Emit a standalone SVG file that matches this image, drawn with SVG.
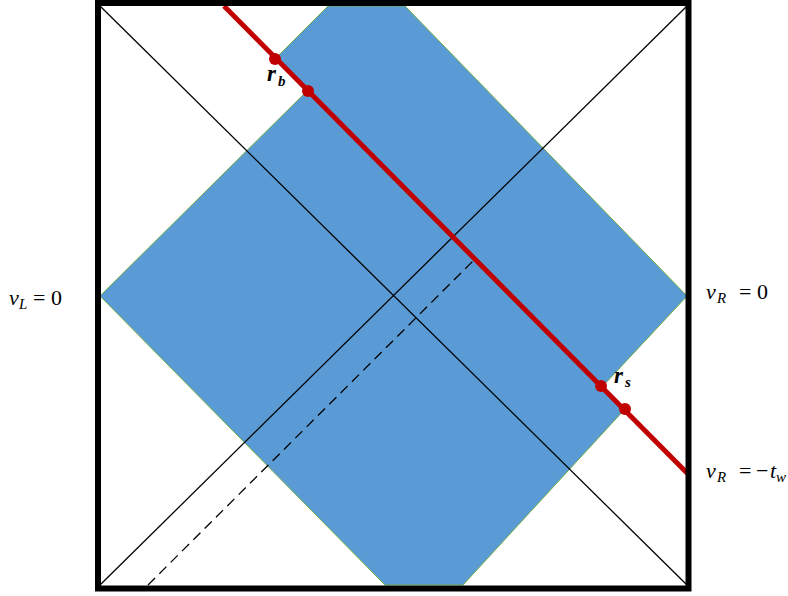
<svg xmlns="http://www.w3.org/2000/svg" width="788" height="596" viewBox="0 0 788 596">
<style>
.diag{stroke:#000;stroke-width:1.3;fill:none}
.lbl{font-family:"Liberation Serif","DejaVu Serif",serif;font-size:22px;fill:#000}
.it{font-style:italic}
.sub{font-size:15px;font-style:italic}
.pt{font-family:"Liberation Serif","DejaVu Serif",serif;font-size:23px;font-style:italic;font-weight:bold;fill:#000}
.dot{fill:#C00000}
</style>
<rect width="788" height="596" fill="#fff"/>
<g id="region">
<polygon points="100,296 308,90 275,59 328,6 405,6 687,296 602,387 625,409 463,585 385,585" fill="#5B9BD5" stroke="#70AD47" stroke-width="1" stroke-linejoin="miter"/>
</g>
<g id="connectors">
<line class="diag" x1="100" y1="6" x2="687" y2="585"/>
<line class="diag" x1="100" y1="585" x2="687" y2="6"/>
<line x1="148" y1="585" x2="475" y2="259" stroke="#000" stroke-width="1.3" stroke-dasharray="10,6"/>
<line x1="224" y1="6" x2="688" y2="474" stroke="#C00000" stroke-width="5"/>
</g>
<g id="frame">
<rect x="98" y="3" width="590.5" height="585.5" fill="none" stroke="#000" stroke-width="6"/>
</g>
<g id="rb">
<circle class="dot" cx="275" cy="59" r="6"/>
<circle class="dot" cx="308" cy="91" r="6"/>
<text class="pt" x="267" y="81">r<tspan x="278" y="86" font-size="15">b</tspan></text>
</g>
<g id="rs">
<circle class="dot" cx="601" cy="386" r="6"/>
<circle class="dot" cx="625" cy="409" r="6"/>
<text class="pt" x="614" y="383">r<tspan x="625" y="387" font-size="15">s</tspan></text>
</g>
<g id="labels">
<text class="lbl" x="9" y="305"><tspan class="it">v</tspan><tspan class="sub" x="19" y="309">L</tspan><tspan x="33" y="305">=</tspan><tspan x="51" y="305">0</tspan></text>
<text class="lbl" x="706" y="299"><tspan class="it">v</tspan><tspan class="sub" x="717" y="303">R</tspan><tspan x="739" y="299">=</tspan><tspan x="757" y="299">0</tspan></text>
<text class="lbl" x="706" y="478"><tspan class="it">v</tspan><tspan class="sub" x="717" y="482">R</tspan><tspan x="739" y="478">=</tspan><tspan x="756" y="478">−</tspan><tspan class="it" x="770" y="478">t</tspan><tspan class="sub" x="776" y="482">w</tspan></text>
</g>
</svg>
